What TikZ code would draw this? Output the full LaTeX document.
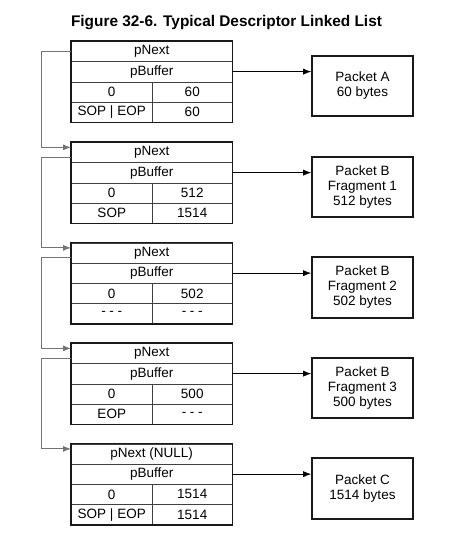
\documentclass[tikz,border=0pt]{standalone}
\usepackage{fontspec}
\setmainfont{Liberation Sans}
\usetikzlibrary{arrows.meta}

\begin{document}
\begin{tikzpicture}[x=1pt, y=-1pt, font=\fontsize{13.5}{15}\selectfont,
  cell/.style={draw=black!75, line width=0.5pt, anchor=north west, inner sep=0pt, minimum height=20.25pt},
  frame/.style={draw=black!90, line width=1.6pt},
  pkt/.style={draw=black!90, line width=1.6pt, minimum width=101pt, minimum height=60.5pt, align=center, inner sep=0pt},
  ptr/.style={-{Latex[length=8pt,width=6pt]}, line width=0.6pt},
  link/.style={-{Latex[length=8pt,width=6pt]}, draw=black!55, line width=0.8pt}]

\useasboundingbox (0,0) rectangle (453,535);

% Title
\node[font=\fontsize{15.4}{18}\selectfont\bfseries, anchor=base] (title) at (226.5,27) {Figure 32-6. Typical Descriptor Linked List};

% Descriptors and packets
\foreach \i/\t/\nxt/\a/\b/\c/\d/\txt in {
  1/41/pNext/0/60/SOP | EOP/60/{Packet A\\60 bytes},
  2/142/pNext/0/512/SOP/1514/{Packet B\\Fragment 1\\512 bytes},
  3/242.5/pNext/0/502/- - -/- - -/{Packet B\\Fragment 2\\502 bytes},
  4/343/pNext/0/500/EOP/- - -/{Packet B\\Fragment 3\\500 bytes},
  5/443.5/pNext (NULL)/0/1514/SOP | EOP/1514/{Packet C\\1514 bytes}}{
  \node[cell, minimum width=161pt] (d\i n) at (71,\t) {\nxt};
  \node[cell, minimum width=161pt] (d\i b) at (71,\t+20.25) {pBuffer};
  \node[cell, minimum width=81pt] (d\i x) at (71,\t+40.5) {\a};
  \node[cell, minimum width=80pt] (d\i s) at (152,\t+40.5) {\b};
  \node[cell, minimum width=81pt] (d\i f) at (71,\t+60.75) {\c};
  \node[cell, minimum width=80pt] (d\i c) at (152,\t+60.75) {\d};
  \draw[frame] (d\i n.north west) rectangle (d\i c.south east);
  \node[pkt] (p\i) at (362.5,\t+45) {\txt};
  \draw[ptr] (d\i b.east) -- (d\i b.east -| p\i.west);
}

% Next pointers
\draw[link] (d1n.west) -- ++(-30,0) |- ([yshift=5pt]d2n.west);
\foreach \i/\j in {2/3,3/4,4/5}
  \draw[link] ([yshift=-5pt]d\i n.west) -- ++(-30,0) |- ([yshift=5pt]d\j n.west);

\end{tikzpicture}
\end{document}
